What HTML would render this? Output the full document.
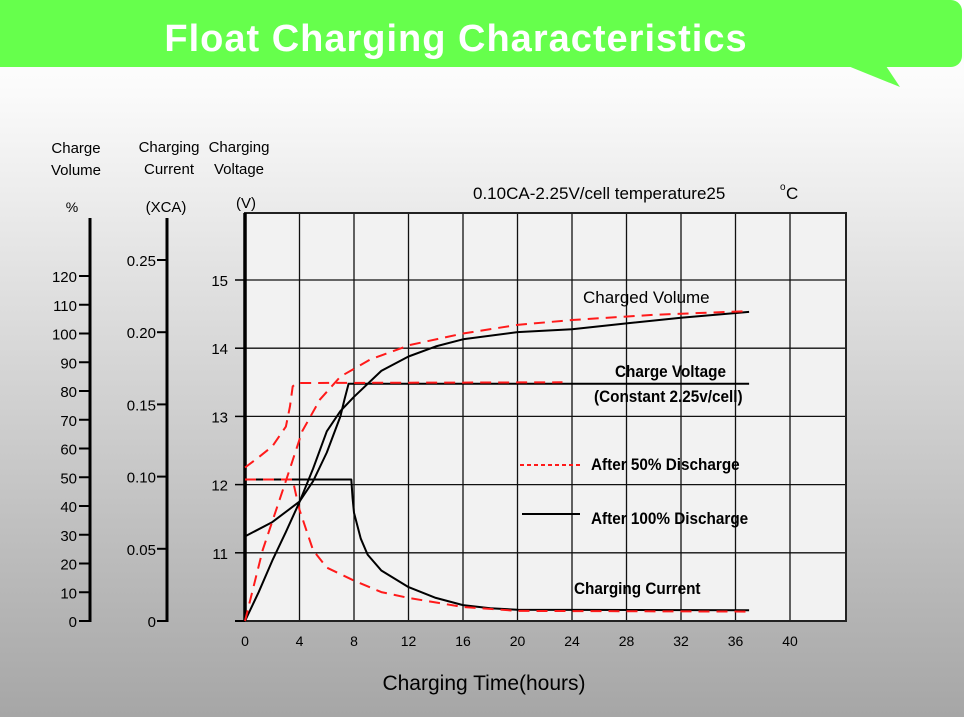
<!DOCTYPE html>
<html><head><meta charset="utf-8"><style>
body{margin:0;width:964px;height:717px;overflow:hidden;font-family:"Liberation Sans",sans-serif}
svg{display:block}
</style></head><body>
<svg id="c" width="964" height="717">
<defs><linearGradient id="bg" x1="0" y1="0" x2="0" y2="1">
<stop offset="0" stop-color="#ffffff"/><stop offset="0.12" stop-color="#fbfbfb"/><stop offset="1" stop-color="#a6a6a6"/></linearGradient></defs>
<rect width="964" height="717" fill="url(#bg)"/>
<g>
<rect x="-10" y="0" width="972" height="67" rx="11" fill="#66ff4c"/>
<polygon points="848,66 886,66 900,87" fill="#66ff4c"/>
<text x="456" y="51" text-anchor="middle" font-size="38" font-weight="bold" fill="#fff" letter-spacing="1">Float Charging Characteristics</text>
</g>
<g id="plot"></g>
</svg>
<script>
const hours=[0,4,8,12,16,20,24,28,32,36,40];
const voltTicks=[10,11,12,13,14,15];
const volTicks=[0,10,20,30,40,50,60,70,80,90,100,110,120];
const curTicks=[0,0.05,0.10,0.15,0.20,0.25];
const curTickLabels=["0","0.05","0.10","0.15","0.20","0.25"];
// series: [hours, value]
const cur100=[[0,0],[0.05,0.098],[7.8,0.098],[7.9,0.085],[8,0.075],[8.5,0.057],[9,0.046],[10,0.035],[12,0.0235],[14,0.016],[16,0.011],[18,0.0088],[20,0.0078],[37,0.0075]];
const cur50=[[0,0.098],[3.5,0.098],[3.8,0.085],[4,0.077],[5,0.049],[6,0.037],[8,0.028],[10,0.02],[12,0.016],[16,0.0097],[20,0.007],[37,0.0065]];
const volt100=[[0,11.24],[2,11.45],[4,11.75],[5,12.05],[6,12.47],[7,13.0],[7.3,13.25],[7.6,13.48],[37,13.48]];
const volt50=[[0,12.25],[1,12.4],[2,12.56],[3,12.85],[3.3,13.15],[3.5,13.44],[3.8,13.49],[23.3,13.5]];
const cap100=[[0,0],[1,10],[2,21],[3,31],[4,41.4],[5,53],[6,66],[7,73],[8,78],[10,87],[12,92],[14,95.5],[16,98],[20,100.5],[24,101.5],[28,103.5],[32,105.5],[37,107.5]];
const cap50=[[0,0],[1.3,24.7],[2.95,48],[4.2,66],[5.5,77],[7,85],[9.2,91],[12.1,96],[16,100],[20,103],[24,104.7],[30,106.5],[37,107.8]];

const X0=245,XR=846,YT=213,YB=621;
const xs=h=>X0+h*(790-X0)/40;
const yV=v=>YB-(v-10)*68.2;
const yC=c=>YB-c*1444;
const yP=p=>YB-p*2.875;
const NS="http://www.w3.org/2000/svg";
const g=document.getElementById('plot');
function el(t,a,par){const e=document.createElementNS(NS,t);for(const k in a)e.setAttribute(k,a[k]);(par||g).appendChild(e);return e;}
function txt(x,y,s,a,name){const e=el('text',Object.assign({x:x,y:y},a));e.textContent=s;

return e;}

const area=el('rect',{x:X0,y:YT,width:XR-X0,height:YB-YT,fill:'#f2f2f2'});


hours.forEach(h=>{if(h>0){const l=el('line',{x1:xs(h),x2:xs(h),y1:YT,y2:YB,stroke:'#111','stroke-width':1.3});

}
txt(xs(h),646,String(h),{'text-anchor':'middle','font-size':14},'x-tick-label');});
voltTicks.forEach(v=>{if(v>10){const l=el('line',{x1:X0,x2:XR,y1:yV(v),y2:yV(v),stroke:'#111','stroke-width':1.3});


el('line',{x1:235,x2:X0,y1:yV(v),y2:yV(v),stroke:'#000','stroke-width':1.5});
txt(228,yV(v)+6,String(v),{'text-anchor':'end','font-size':15},'voltage-tick-label');}});
const fr=el('rect',{x:X0,y:YT,width:XR-X0,height:YB-YT,fill:'none',stroke:'#222','stroke-width':2});


el('line',{x1:X0,x2:X0,y1:YT,y2:YB,stroke:'#000','stroke-width':3.5});
el('line',{x1:235,x2:X0,y1:YB,y2:YB,stroke:'#000','stroke-width':2});
// left axes
el('line',{x1:90,x2:90,y1:218,y2:YB+1,stroke:'#000','stroke-width':3});
volTicks.forEach(p=>{el('line',{x1:79,x2:90,y1:yP(p),y2:yP(p),stroke:'#000','stroke-width':2});
txt(77,yP(p)+6,String(p),{'text-anchor':'end','font-size':15},'volume-tick-label');});
el('line',{x1:167,x2:167,y1:218,y2:YB+1,stroke:'#000','stroke-width':3});
curTicks.forEach((c,i)=>{el('line',{x1:157,x2:167,y1:yC(c),y2:yC(c),stroke:'#000','stroke-width':2});
txt(156,yC(c)+6,curTickLabels[i],{'text-anchor':'end','font-size':15},'current-tick-label');});
txt(76,153,'Charge',{'text-anchor':'middle','font-size':15},'volume-axis-title');
txt(76,175,'Volume',{'text-anchor':'middle','font-size':15},'volume-axis-title');
txt(72,212,'%',{'text-anchor':'middle','font-size':14},'volume-unit');
txt(169,152,'Charging',{'text-anchor':'middle','font-size':15},'current-axis-title');
txt(169,174,'Current',{'text-anchor':'middle','font-size':15},'current-axis-title');
txt(166,212,'(XCA)',{'text-anchor':'middle','font-size':15},'current-unit');
txt(239,152,'Charging',{'text-anchor':'middle','font-size':15},'voltage-axis-title');
txt(239,174,'Voltage',{'text-anchor':'middle','font-size':15},'voltage-axis-title');
txt(246,208,'(V)',{'text-anchor':'middle','font-size':15},'voltage-unit');
txt(484,690,'Charging Time(hours)',{'text-anchor':'middle','font-size':21},'x-axis-title');
txt(473,199,'0.10CA-2.25V/cell   temperature25',{'font-size':17,'xml:space':'preserve'},'conditions-label');
txt(780,190,'o',{'font-size':10},'degree-sign');
txt(786,199,'C',{'font-size':17},'celsius-label');

function path(data,yf,red,name){
 let d=data.map((p,i)=>(i?'L':'M')+xs(p[0]).toFixed(1)+','+yf(p[1]).toFixed(1)).join(' ');
 const a={d:d,fill:'none',stroke:red?'#ff1a1a':'#000','stroke-width':2,'stroke-linejoin':'round'};
 if(red)a['stroke-dasharray']='11,7';
 const e=el('path',a);
 
 
}
path(cur100,yC,false,'current-after-100');
path(cur50,yC,true,'current-after-50');
path(volt100,yV,false,'voltage-after-100');
path(volt50,yV,true,'voltage-after-50');
path(cap100,yP,false,'volume-after-100');
path(cap50,yP,true,'volume-after-50');
// annotations
txt(583,303,'Charged Volume',{'font-size':17},'charged-volume-label');
const B={'font-size':16,'font-weight':'bold','transform':'scale(0.9,1)'};
function btxt(x,y,s,name){const e=txt(x/0.9,y,s,{'font-size':17,'font-weight':'bold'},name);e.setAttribute('transform','scale(0.9,1)');}
btxt(615,377,'Charge Voltage','charge-voltage-label');
btxt(594,402,'(Constant 2.25v/cell)','constant-voltage-label');
btxt(591,470,'After 50% Discharge','legend-50-label');
btxt(591,524,'After 100% Discharge','legend-100-label');
btxt(574,594,'Charging Current','charging-current-label');
const l1=el('line',{x1:520,x2:580,y1:465,y2:465,stroke:'#ff1a1a','stroke-width':2,'stroke-dasharray':'4,3'});


const l2=el('line',{x1:522,x2:580,y1:514,y2:514,stroke:'#000','stroke-width':2});


</script>
</body></html>
